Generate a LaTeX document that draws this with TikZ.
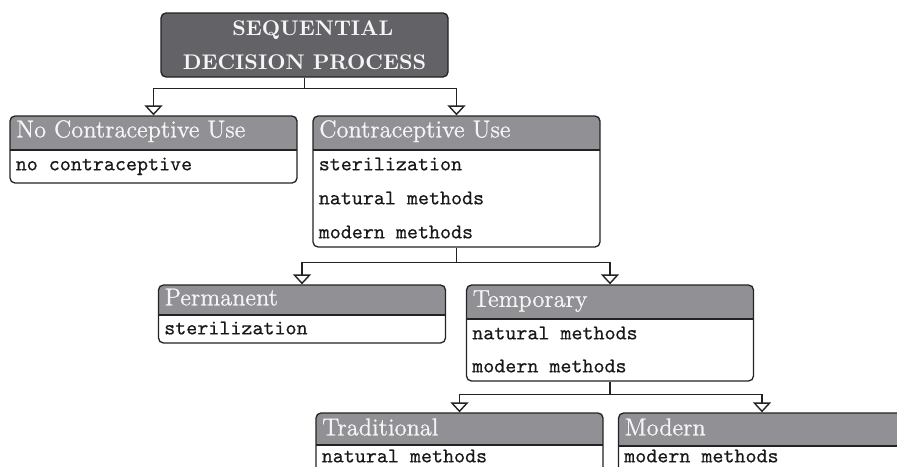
\documentclass[tikz,border=0pt]{standalone}
\usepackage{fontspec}
\usetikzlibrary{arrows.meta}
\newfontfamily\headfont{lmroman12-regular.otf}[FakeBold=0.9]
\newfontfamily\itemfont{lmmono10-regular.otf}[FakeBold=0.45]
\definecolor{headgray}{RGB}{144,144,149}
\definecolor{topgray}{RGB}{99,99,103}
\definecolor{edgecol}{RGB}{35,35,35}
\definecolor{bodytext}{RGB}{25,25,25}
\definecolor{lighttext}{RGB}{245,245,245}
\begin{document}
\begin{tikzpicture}[x=0.5pt,y=-0.5pt,
  box/.style={draw=edgecol, line width=0.65pt, rounded corners=2.5pt, fill=white,
    minimum width=143.5pt, inner sep=0pt},
  head/.style={path picture={
    \fill[headgray, sharp corners] (path picture bounding box.north west) rectangle ([yshift=-#1*0.5pt]path picture bounding box.north east);
    \draw[edgecol, line width=0.65pt, sharp corners] ([yshift=-#1*0.5pt]path picture bounding box.north west) -- ([yshift=-#1*0.5pt]path picture bounding box.north east);}},
  headtext/.style={text=lighttext, font=\headfont\fontsize{12.2}{14}\selectfont, inner sep=0pt, anchor=base west},
  item/.style={text=bodytext, font=\itemfont\fontsize{10.5}{12}\selectfont, inner sep=0pt, anchor=base west},
  toptext/.style={text=lighttext, font=\fontsize{10.6}{13}\selectfont\bfseries, inner sep=0pt, anchor=base},
  conn/.style={draw=edgecol, line width=0.7pt, -{Triangle[open, length=5pt, width=9pt]}}
]
\useasboundingbox (0,0) rectangle (897,466);
\clip (0,0) rectangle (897,466);

% top box
\node[box, fill=topgray, minimum height=32pt] (top) at (304.5,45) {};
\node[toptext] (top-1) at ([shift={(8.3,23)}]top.north) {SEQUENTIAL};
\node[toptext] (top-2) at ([shift={(0,57)}]top.north) {DECISION PROCESS};

% level 1
\node[box, head=34, minimum height=33.5pt] (nocu) at (153.5,149.5) {};
\node[headtext] (nocu-h) at ([shift={(6.5,22)}]nocu.north west) {No Contraceptive Use};
\node[item] (nocu-1) at ([shift={(6,55)}]nocu.north west) {no contraceptive};

\node[box, head=34, minimum height=65.5pt] (cu) at (456.5,181.5) {};
\node[headtext] (cu-h) at ([shift={(6.5,22)}]cu.north west) {Contraceptive Use};
\node[item] (cu-1) at ([shift={(6,55)}]cu.north west) {sterilization};
\node[item] (cu-2) at ([shift={(6,89)}]cu.north west) {natural methods};
\node[item] (cu-3) at ([shift={(6,123)}]cu.north west) {modern methods};

% level 2
\node[box, head=30, minimum height=29pt] (perm) at (302,314) {};
\node[headtext] (perm-h) at ([shift={(6.5,21)}]perm.north west) {Permanent};
\node[item] (perm-1) at ([shift={(6,50)}]perm.north west) {sterilization};

\node[box, head=34, minimum height=48pt] (temp) at (610,333) {};
\node[headtext] (temp-h) at ([shift={(6.5,22.5)}]temp.north west) {Temporary};
\node[item] (temp-1) at ([shift={(6,55)}]temp.north west) {natural methods};
\node[item] (temp-2) at ([shift={(6,88)}]temp.north west) {modern methods};

% level 3
\node[box, head=32, minimum height=31pt] (trad) at (459.5,444) {};
\node[headtext] (trad-h) at ([shift={(6.5,23)}]trad.north west) {Traditional};
\node[item] (trad-1) at ([shift={(6,50)}]trad.north west) {natural methods};

\node[box, head=33, minimum height=31pt] (mod) at (762,444) {};
\node[headtext] (mod-h) at ([shift={(6.5,23)}]mod.north west) {Modern};
\node[item] (mod-1) at ([shift={(6,50)}]mod.north west) {modern methods};

% connectors
\draw[conn] (top.south) -- ++(0,11) -| (nocu.north);
\draw[conn] (top.south) -- ++(0,11) -| (cu.north);
\draw[conn] (cu.south) -- ++(0,15) -| (perm.north);
\draw[conn] (cu.south) -- ++(0,15) -| (temp.north);
\draw[conn] (temp.south) -- ++(0,13) -| (trad.north);
\draw[conn] (temp.south) -- ++(0,13) -| (mod.north);
\end{tikzpicture}
\end{document}
